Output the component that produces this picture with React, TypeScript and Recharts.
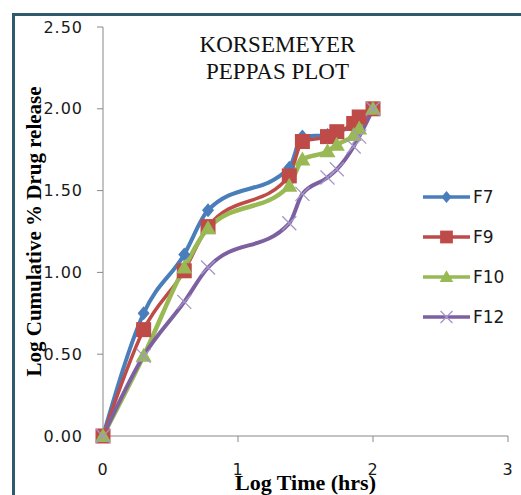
import React from "react";
import { LineChart, Line, XAxis, YAxis } from "recharts";

// log time (hrs) shared by all formulations
const logTime = [0, 0.301, 0.602, 0.778, 1.38, 1.477, 1.663, 1.732, 1.857, 1.898, 2.0];
// log cumulative % drug release
const f7 = [0, 0.75, 1.11, 1.38, 1.64, 1.83, 1.84, 1.86, 1.9, 1.94, 2.0];
const f9 = [0, 0.65, 1.01, 1.28, 1.59, 1.8, 1.83, 1.86, 1.91, 1.95, 2.0];
const f10 = [0, 0.49, 1.03, 1.27, 1.53, 1.69, 1.74, 1.78, 1.84, 1.88, 2.0];
const f12 = [0, 0.49, 0.82, 1.03, 1.3, 1.48, 1.58, 1.63, 1.77, 1.83, 2.0];

const seriesNames = ["F7", "F9", "F10", "F12"];
const xTicks = [0, 1, 2, 3];
const yTicks = [0, 0.5, 1, 1.5, 2, 2.5];

const data = logTime.map((t, i) => ({
  time: t,
  F7: f7[i],
  F9: f9[i],
  F10: f10[i],
  F12: f12[i],
}));

const BLUE = "#4A7EBB";
const RED = "#BE4B48";
const GREEN = "#98B954";
const PURPLE = "#7D60A0";
const CROSS = "#A596C8";

const colors: Record<string, string> = { F7: BLUE, F9: RED, F10: GREEN, F12: PURPLE };

const tickStyle = { fontFamily: "DejaVu Sans", fontSize: 16, fill: "#1a1a1a", letterSpacing: 1 };

function marker(name: string, cx: number, cy: number, key?: any, small?: boolean) {
  const s = small ? 0.85 : 1;
  if (name === "F7") {
    return (
      <path key={key} d={`M${cx},${cy - 7 * s} L${cx + 6 * s},${cy} L${cx},${cy + 7 * s} L${cx - 6 * s},${cy} Z`} fill={BLUE} />
    );
  }
  if (name === "F9") {
    return <rect key={key} x={cx - 7.5 * s} y={cy - 7.5 * s} width={15 * s} height={15 * s} fill={RED} />;
  }
  if (name === "F10") {
    return (
      <path key={key} d={`M${cx},${cy - 8 * s} L${cx + 8 * s},${cy + 6 * s} L${cx - 8 * s},${cy + 6 * s} Z`} fill={GREEN} />
    );
  }
  return (
    <g key={key}>
      <line x1={cx - 7 * s} y1={cy - 7 * s} x2={cx + 7 * s} y2={cy + 7 * s} stroke={CROSS} strokeWidth={1.3} />
      <line x1={cx - 7 * s} y1={cy + 7 * s} x2={cx + 7 * s} y2={cy - 7 * s} stroke={CROSS} strokeWidth={1.3} />
    </g>
  );
}

const dotFor = (name: string) => (props: any) => marker(name, props.cx, props.cy, props.index);

const ChartLegend = () => (
  <svg width={121} height={170} style={{ position: "absolute", left: 400, top: 180 }}>
    {seriesNames.map((name, i) => {
      const y = 17 + i * 40;
      return (
        <g key={name}>
          <line x1={23} y1={y} x2={70} y2={y} stroke={colors[name]} strokeWidth={3.5} />
          {marker(name, 46.5, y, "m" + name, true)}
          <text x={73} y={y + 6} fontFamily="DejaVu Sans" fontSize={17} fill="#1a1a1a">
            {name}
          </text>
        </g>
      );
    })}
  </svg>
);

export default function App() {
  return (
    <div style={{ position: "absolute", left: 0, top: 0, width: 521, height: 495, overflow: "hidden", background: "#fff" }}>
      <div
        style={{
          position: "absolute",
          left: 12,
          top: 13,
          width: 600,
          height: 600,
          borderTop: "3px solid #2E5B6C",
          borderLeft: "3px solid #2E5B6C",
        }}
      />
      <div
        style={{
          position: "absolute",
          left: 170,
          top: 31,
          width: 215,
          textAlign: "center",
          fontFamily: "Liberation Serif",
          fontSize: 23,
          lineHeight: "27px",
          color: "#111",
        }}
      >
        KORSEMEYER
        <br />
        PEPPAS PLOT
      </div>
      <LineChart
        width={521}
        height={495}
        data={data}
        margin={{ top: 27, right: 13, bottom: 19, left: 0 }}
        style={{ position: "absolute", left: 0, top: 0 }}
      >
        <XAxis
          dataKey="time"
          type="number"
          domain={[0, 3]}
          ticks={xTicks}
          height={40}
          tickSize={6}
          tickMargin={22}
          stroke="#888"
          tick={tickStyle}
          label={{
            value: "Log Time (hrs)",
            position: "insideBottom",
            offset: -14,
            style: { fontFamily: "Liberation Serif", fontWeight: "bold", fontSize: 22, fill: "#000" },
          }}
        />
        <YAxis
          type="number"
          domain={[0, 2.5]}
          ticks={yTicks}
          width={103}
          tickSize={6}
          tickMargin={14}
          stroke="#888"
          tick={tickStyle}
          tickFormatter={(v: number) => v.toFixed(2)}
          label={{
            value: "Log Cumulative % Drug release",
            angle: -90,
            position: "insideLeft",
            offset: 34,
            style: { textAnchor: "middle", fontFamily: "Liberation Serif", fontWeight: "bold", fontSize: 21, fill: "#000" },
          }}
        />
        {seriesNames.map((name) => (
          <Line
            key={name}
            type="monotone"
            dataKey={name}
            stroke={colors[name]}
            strokeWidth={name === "F10" ? 4.5 : name === "F9" ? 3.5 : 4}
            dot={dotFor(name)}
            activeDot={false}
            isAnimationActive={false}
          />
        ))}
      </LineChart>
      <ChartLegend />
    </div>
  );
}
